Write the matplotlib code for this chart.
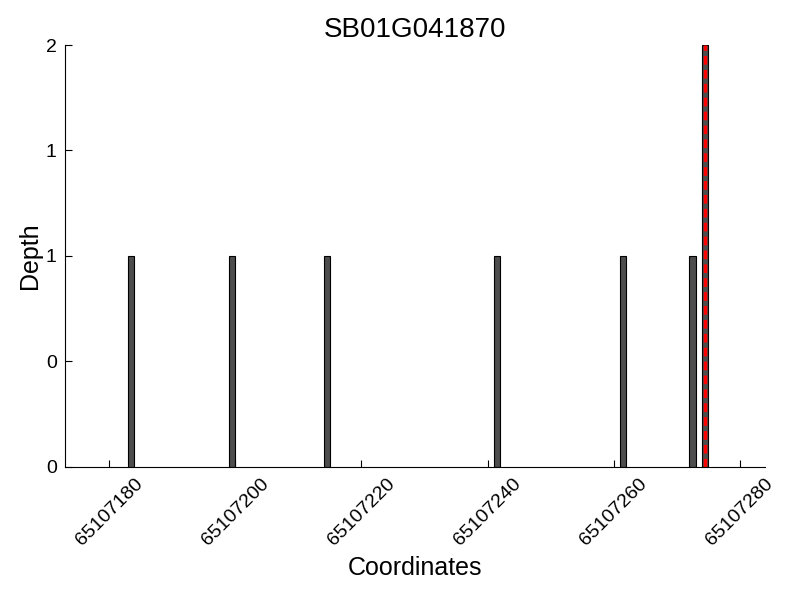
import matplotlib
matplotlib.use('Agg')
import matplotlib.pyplot as plt
import numpy as np

plt.rcParams['font.family'] = ['Liberation Sans', 'DejaVu Sans']

gene = 'SB01G041870'
positions = [65107183, 65107199, 65107214, 65107241, 65107261, 65107272, 65107274]
depths = [1, 1, 1, 1, 1, 1, 2]
marker_pos = 65107274.5
xticks = [65107180, 65107200, 65107220, 65107240, 65107260, 65107280]
yticks = [0, 0.5, 1, 1.5, 2]

fig = plt.figure(figsize=(8, 6), dpi=100)
ax = fig.add_axes([0.08125, 0.2217, 0.875, 0.7033])

ax.bar(positions, depths, width=1, align='edge', color='#4d4d4d',
       edgecolor='black', linewidth=0.8)
ax.axvline(marker_pos, color='red', linestyle=(0, (2.5, 1.5)), linewidth=2.5)

ax.set_xlim(min(positions) - 10, max(positions) + 10)
ax.set_ylim(0, max(depths))
ax.set_xticks(xticks)
ax.set_xticklabels([str(t) for t in xticks], rotation=45, ha='center', fontsize=14)
ax.set_yticks(yticks)
ax.set_yticklabels(['%d' % t for t in yticks], fontsize=14)
ax.tick_params(direction='in', length=5, width=0.8)
ax.tick_params(axis='x', pad=6)
ax.tick_params(axis='y', pad=6)
ax.spines['top'].set_visible(False)
ax.spines['right'].set_visible(False)

ax.set_xlabel('Coordinates', fontsize=18, labelpad=5)
ax.set_ylabel('Depth', fontsize=18, labelpad=3)
ax.set_title(gene, fontsize=20)

plt.savefig('out.png', dpi=100)
